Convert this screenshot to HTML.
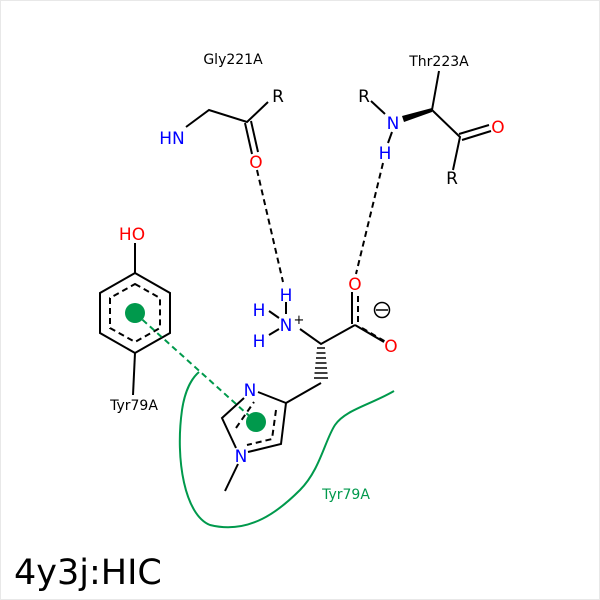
<!DOCTYPE html>
<html><head><style>body{margin:0;background:#fff}svg{display:block}text{font-family:"DejaVu Sans","Liberation Sans",sans-serif}</style></head><body>
<svg width="600" height="600" viewBox="0 0 600 600" xmlns="http://www.w3.org/2000/svg">
<rect x="0.5" y="0.5" width="599" height="599" fill="#fff" stroke="#e8e8e8"/>
<g stroke="#000" stroke-width="2" fill="none">
<path d="M186,127 L209,110 L247,122 L268,102"/>
<path d="M245,123 L252,154 M251,121 L258,152"/>
<path d="M439,71 L432,110 L460,137 L453,170"/>
<path d="M459,134 L489,125 M462,140 L491,131"/>
<path d="M371,101 L385,114"/>
<path d="M392,132 L388,143"/>
<path d="M300,329 L321,344 L355,325"/>
<path d="M352,324 L352,292" />
<path d="M355,325 L384,342"/>
<path d="M321,383 L286,403"/>
<path d="M286,403 L258,392 M244,398 L222,418 L236,448 M248,452 L281,444 L286,403"/>
<path d="M238,464 L225,491"/>
<path d="M135,273 L170,293 L170,333 L135,353 L100,333 L100,293 Z"/>
<path d="M135,243 L135,273"/>
<path d="M135,353 L133,395"/>
<path d="M269,311 L279,318 M269,335 L279,329 M286,302 L286,314"/>
</g>
<polygon points="402,116 432,108 432,112 404,122" fill="#000"/>
<g stroke="#000" stroke-width="1.5">
<path d="M317,348h8M316.5,353h9M316,358h10M315.5,363h11M315,368h12M314.5,373h13M314,378h14"/>
</g>
<g stroke="#000" stroke-width="2" fill="none" stroke-dasharray="6,4">
<path d="M135,284 L160,298 L160,328 L135,342 L110,328 L110,298 Z"/>
<path d="M358,322 L358,292"/>
<path d="M362,328 L386,342"/>
<path d="M276,410 L272,439 L247,445 M236,428 L254,402"/>
<path d="M257,170 L283,282 M383,163 L356,274"/>
</g>
<circle cx="382" cy="310" r="7.5" fill="none" stroke="#000" stroke-width="1.5"/>
<path d="M376,310h12" stroke="#000" stroke-width="1.5"/>
<path d="M135,313 L256,422" stroke="#00994c" stroke-width="2" stroke-dasharray="6,4" fill="none"/>
<circle cx="135" cy="313" r="10" fill="#00994c"/>
<circle cx="256" cy="422" r="10" fill="#00994c"/>
<path d="M394,391 C370,405 345,410 335,425 C325,440 320,470 300,490 C280,510 250,535 210,525 C185,515 175,460 182,410 C185,390 192,378 199,372" stroke="#00994c" stroke-width="2" fill="none"/>
<g font-size="15" text-anchor="middle">
<text x="233" y="64" fill="#000" font-size="14">Gly221A</text>
<text x="439" y="66" fill="#000" font-size="14">Thr223A</text>
<text x="278" y="102" fill="#000" font-size="17">R</text>
<text x="364" y="102" fill="#000" font-size="17">R</text>
<text x="452" y="184" fill="#000" font-size="17">R</text>
<text x="172" y="144" fill="#00f" font-size="17">HN</text>
<text x="393" y="129" fill="#00f" font-size="17">N</text>
<text x="385" y="159" fill="#00f" font-size="17">H</text>
<text x="256" y="168" fill="#f00" font-size="17">O</text>
<text x="498" y="133" fill="#f00" font-size="17">O</text>
<text x="355" y="290" fill="#f00" font-size="17">O</text>
<text x="391" y="352" fill="#f00" font-size="17">O</text>
<text x="286" y="301" fill="#00f" font-size="17">H</text>
<text x="286" y="331" fill="#00f" font-size="17">N</text>
<text x="299" y="324" fill="#000" font-size="13">+</text>
<text x="259" y="316" fill="#00f" font-size="17">H</text>
<text x="259" y="347" fill="#00f" font-size="17">H</text>
<text x="250" y="396" fill="#00f" font-size="17">N</text>
<text x="241" y="462" fill="#00f" font-size="17">N</text>
<text x="132" y="240" fill="#f00" font-size="17">HO</text>
<text x="134" y="410" fill="#000" font-size="14">Tyr79A</text>
<text x="346" y="499" fill="#00994c" font-size="14">Tyr79A</text>
</g>
<text x="14" y="584" font-size="35" fill="#000">4y3j:HIC</text>
</svg>
</body></html>
